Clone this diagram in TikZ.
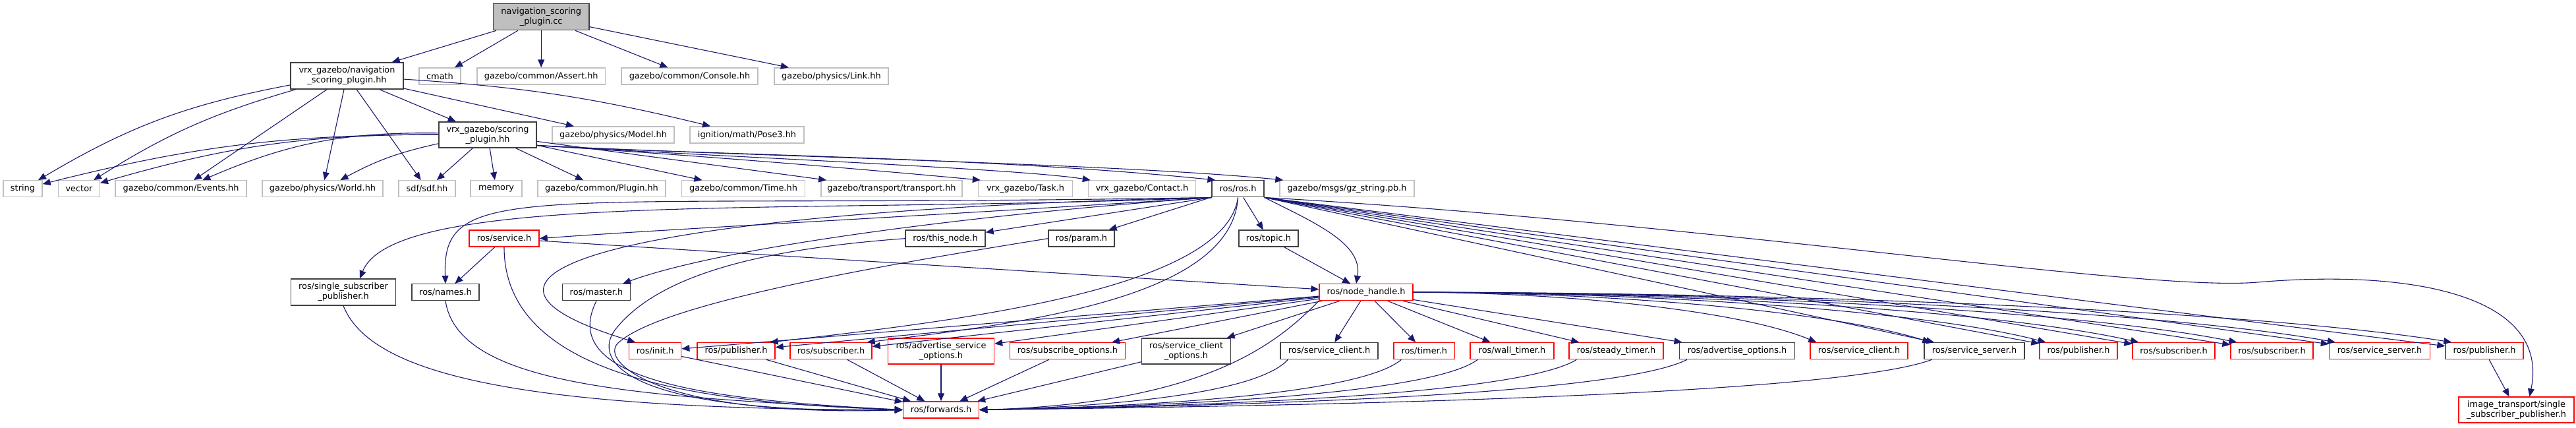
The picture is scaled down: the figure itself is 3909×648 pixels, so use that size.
\documentclass[tikz,border=0pt]{standalone}
\usepackage{fontspec}
\newfontfamily\dvs{DejaVu Sans}
\usetikzlibrary{arrows.meta}
\definecolor{edgec}{HTML}{191970}
\definecolor{gA}{HTML}{BFBFBF}
\definecolor{gD}{HTML}{404040}
\tikzset{
 box/.style={rectangle, inner sep=0pt, align=center, line width=1.4pt, font=\dvs\fontsize{12.9pt}{15pt}\selectfont, text=black},
 extn/.style={box, draw=gA},
 docn/.style={box, draw=gD},
 trnc/.style={box, draw=red},
 rootn/.style={box, draw=gD, fill=gA},
 dep/.style={draw=edgec, line width=1.1pt, -{Triangle[length=12pt,width=10pt]}},
}
\newcommand\mkn[6]{\node[#1, minimum width=#4pt, minimum height=#5pt] (#2) at (#3) {#6};}
\begin{document}
\begin{tikzpicture}[x=1pt,y=1pt]
\useasboundingbox (0,0) rectangle (3909,648);
% level 0-2
\mkn{rootn}{cc}{821.2,622.3}{145.5}{40}{navigation\_scoring\\\_plugin.cc}
\mkn{docn}{nsp}{526.5,533}{171}{40}{vrx\_gazebo/navigation\\\_scoring\_plugin.hh}
\mkn{extn}{cmath}{667.5,532.5}{63}{25}{cmath}
\mkn{extn}{assert}{821.2,532.5}{194.5}{25}{gazebo/common/Assert.hh}
\mkn{extn}{console}{1046.5,532.5}{207}{25}{gazebo/common/Console.hh}
\mkn{extn}{link}{1261.5,532.5}{173}{25}{gazebo/physics/Link.hh}
\mkn{docn}{sp}{740,443.5}{148}{39}{vrx\_gazebo/scoring\\\_plugin.hh}
\mkn{extn}{model}{930.5,443.5}{185}{25}{gazebo/physics/Model.hh}
\mkn{extn}{pose}{1133.5,443.5}{173}{25}{ignition/math/Pose3.hh}
% level 3
\mkn{extn}{string}{34.5,361.7}{59}{25}{string}
\mkn{extn}{vector}{120,361.7}{62.5}{25}{vector}
\mkn{extn}{events}{274.6,361.7}{199}{25}{gazebo/common/Events.hh}
\mkn{extn}{world}{489.5,361.7}{183}{25}{gazebo/physics/World.hh}
\mkn{extn}{sdf}{648,361.7}{86}{25}{sdf/sdf.hh}
\mkn{extn}{memory}{753,361.7}{78}{25}{memory}
\mkn{extn}{plugin}{913,361.7}{194}{25}{gazebo/common/Plugin.hh}
\mkn{extn}{time}{1128,361.7}{187}{25}{gazebo/common/Time.hh}
\mkn{extn}{transport}{1353,361.7}{214}{25}{gazebo/transport/transport.hh}
\mkn{extn}{task}{1556,361.7}{143}{25}{vrx\_gazebo/Task.h}
\mkn{extn}{contact}{1733,361.7}{163}{25}{vrx\_gazebo/Contact.h}
\mkn{docn}{ros}{1878.6,361.7}{79}{25}{ros/ros.h}
\mkn{extn}{gzstr}{2044,361.7}{204}{25}{gazebo/msgs/gz\_string.pb.h}
% level 4
\mkn{trnc}{service}{765,286.3}{106}{25}{ros/service.h}
\mkn{docn}{thisnode}{1434.5,286.3}{121}{25}{ros/this\_node.h}
\mkn{docn}{param}{1641,286.3}{100}{25}{ros/param.h}
\mkn{docn}{topic}{1925,286.3}{90}{25}{ros/topic.h}
% level 5
\mkn{docn}{ssp}{521,205}{159}{40}{ros/single\_subscriber\\\_publisher.h}
\mkn{docn}{names}{676,204.8}{102}{25}{ros/names.h}
\mkn{docn}{master}{905,204.8}{103}{25}{ros/master.h}
\mkn{trnc}{nh}{2073,204.8}{142}{25}{ros/node\_handle.h}
% level 6
\mkn{trnc}{init}{994.2,115.8}{79}{25}{ros/init.h}
\mkn{trnc}{pubA}{1117,115.8}{118}{25}{ros/publisher.h}
\mkn{trnc}{subA}{1261,115.8}{124}{25}{ros/subscriber.h}
\mkn{trnc}{aso}{1428,115.5}{161}{39}{ros/advertise\_service\\\_options.h}
\mkn{trnc}{subopt}{1620,115.8}{175}{25}{ros/subscribe\_options.h}
\mkn{docn}{sco}{1800,115.5}{135}{39}{ros/service\_client\\\_options.h}
\mkn{docn}{scA}{2017,115.8}{148}{25}{ros/service\_client.h}
\mkn{trnc}{timer}{2161.3,115.8}{92.5}{25}{ros/timer.h}
\mkn{trnc}{wall}{2294.5,115.8}{127}{25}{ros/wall\_timer.h}
\mkn{trnc}{steady}{2452.5,115.8}{143}{25}{ros/steady\_timer.h}
\mkn{docn}{advopt}{2636,115.8}{175}{25}{ros/advertise\_options.h}
\mkn{trnc}{scB}{2821,115.8}{148}{25}{ros/service\_client.h}
\mkn{docn}{ssA}{2996,115.8}{152}{25}{ros/service\_server.h}
\mkn{trnc}{pubB}{3154,115.8}{118}{25}{ros/publisher.h}
\mkn{trnc}{subB}{3298.5,115.8}{125}{25}{ros/subscriber.h}
\mkn{trnc}{subC}{3447.5,115.8}{125}{25}{ros/subscriber.h}
\mkn{trnc}{ssB}{3611,115.8}{153}{25}{ros/service\_server.h}
\mkn{trnc}{pubC}{3770,115.8}{118}{25}{ros/publisher.h}
% level 7
\mkn{trnc}{fwd}{1428,26.5}{115}{25}{ros/forwards.h}
\mkn{trnc}{its}{3818.5,26.5}{175}{39}{image\_transport/single\\\_subscriber\_publisher.h}

% ---- edges: root
\draw[dep] (cc) -- (nsp);
\draw[dep] (cc) -- (cmath);
\draw[dep] (cc) -- (assert);
\draw[dep] (cc) -- (console);
\draw[dep] (cc) -- (link);
% navigation_scoring_plugin.hh
\draw[dep] (nsp) to[bend right=10] (string);
\draw[dep] (nsp) to[bend right=8] (vector);
\draw[dep] (nsp) -- (events);
\draw[dep] (nsp) -- (world);
\draw[dep] (nsp) -- (sdf);
\draw[dep] (nsp) -- (sp);
\draw[dep] (nsp) -- (model);
\draw[dep] (nsp) to[bend left=5] (pose);
% scoring_plugin.hh
\draw[dep] (sp) to[bend right=7] (string);
\draw[dep] (sp) to[bend right=8] (vector);
\draw[dep] (sp) to[bend right=12] (events);
\draw[dep] (sp) to[bend right=8] (world);
\draw[dep] (sp) -- (sdf);
\draw[dep] (sp) -- (memory);
\draw[dep] (sp) -- (plugin);
\draw[dep] (sp) -- (time);
\draw[dep] (sp) -- (transport);
\draw[dep] ([yshift=-16pt]sp.east) .. controls (1100,410) and (1380,385) .. ([xshift=4pt]task.north west);
\draw[dep] ([yshift=-16pt]sp.east) .. controls (1100,410) and (1550,392) .. ([xshift=4pt]contact.north west);
\draw[dep] ([yshift=-16pt]sp.east) .. controls (1100,412) and (1500,410) .. ([xshift=6pt]ros.north west);
\draw[dep] ([yshift=-16pt]sp.east) .. controls (1100,412) and (1700,400) .. ([xshift=6pt]gzstr.north west);
% ros.h
\draw[dep] (ros.south west) .. controls (1200,322) and (600,360) .. ([xshift=25pt]ssp.north);
\draw[dep] (ros.south west) .. controls (800,330) and (670,380) .. (names.north);
\draw[dep] (ros.south west) .. controls (1400,320) and (1000,300) .. (service.east);
\draw[dep] (ros.south west) .. controls (1000,330) and (600,240) .. ([xshift=-30pt]init.north);
\draw[dep] (ros.south west) .. controls (1500,325) and (1100,275) .. ([xshift=-12pt]master.north east);
\draw[dep] (ros.south west) -- (thisnode);
\draw[dep] (ros) -- (param);
\draw[dep] (ros) -- (topic);
\draw[dep] (ros.south east) .. controls +(80,-40) and +(10,60) .. ([xshift=-15pt]nh.north);
\draw[dep] (ros.south) .. controls +(-20,-140) and +(282,32) .. ([xshift=-8pt]pubA.north east);
\draw[dep] (ros.south) .. controls +(-10,-150) and +(250,30) .. ([xshift=-8pt]subA.north east);
\draw[dep] (ros.south east) -- (ssA);
\draw[dep] (ros.south east) -- (pubB);
\draw[dep] (ros.south east) -- (subB);
\draw[dep] (ros.south east) -- (subC);
\draw[dep] (ros.south east) -- (ssB);
\draw[dep] (ros.south east) -- (pubC);
\draw[dep] (ros.south east) .. controls (2600,310) and (3250,205) .. (3426,220) .. controls (3660,240) and (3870,200) .. ([xshift=20pt]its.north);
% level 4/5 to forwards etc.
\draw[dep] (service) -- (names);
\draw[dep] (service) -- (nh);
\draw[dep] (service.south) .. controls +(0,-200) and +(-300,10) .. (fwd.west);
\draw[dep] (topic) -- (nh);
\draw[dep] (thisnode.west) .. controls (1150,270) and (1000,230) .. (935,150) .. controls (895,101) and (950,20) .. (fwd.west);
\draw[dep] (param.west) .. controls (1300,240) and (1000,185) .. (938,128) .. controls (908,100) and (1000,15) .. (fwd.west);
\draw[dep] (names.south) .. controls +(20,-130) and +(-400,20) .. (fwd.west);
\draw[dep] (master.south) .. controls +(-60,-120) and +(-300,15) .. (fwd.west);
\draw[dep] (ssp.south) .. controls +(40,-100) and +(-600,0) .. (fwd.west);
% node_handle.h
\draw[dep] (nh.south west) .. controls +(-60,-60) and +(350,10) .. (fwd.east);
\draw[dep] (nh) -- (init);
\draw[dep] (nh) -- (pubA);
\draw[dep] (nh) -- (subA);
\draw[dep] (nh) -- (aso);
\draw[dep] (nh) -- (subopt);
\draw[dep] (nh) -- (sco);
\draw[dep] (nh) -- (scA);
\draw[dep] (nh) -- (timer);
\draw[dep] (nh) -- (wall);
\draw[dep] (nh) -- (steady);
\draw[dep] (nh) -- (advopt);
\draw[dep] (nh.east) .. controls +(215,0) and +(-120,50) .. ([xshift=10pt]scB.north west);
\draw[dep] (nh.east) .. controls +(275,0) and +(-160,50) .. ([xshift=10pt]ssA.north west);
\draw[dep] (nh.east) .. controls +(335,0) and +(-190,50) .. ([xshift=10pt]pubB.north west);
\draw[dep] (nh.east) .. controls +(385,0) and +(-220,50) .. ([xshift=10pt]subB.north west);
\draw[dep] (nh.east) .. controls +(440,0) and +(-250,50) .. ([xshift=10pt]subC.north west);
\draw[dep] (nh.east) .. controls +(490,0) and +(-280,50) .. ([xshift=10pt]ssB.north west);
\draw[dep] (nh.east) .. controls +(550,0) and +(-315,50) .. ([xshift=10pt]pubC.north west);
% level 6 to forwards
\draw[dep] (init) -- (fwd);
\draw[dep] (pubA) -- (fwd);
\draw[dep] (subA) -- (fwd);
\draw[dep] (aso) -- (fwd);
\draw[dep] (subopt) -- (fwd);
\draw[dep] (sco) -- (fwd);
\draw[dep] ([xshift=12pt]scA.south west) .. controls +(-50,-55) and +(170,4) .. (fwd.east);
\draw[dep] ([xshift=12pt]timer.south west) .. controls +(-65,-55) and +(225,4) .. (fwd.east);
\draw[dep] ([xshift=12pt]wall.south west) .. controls +(-75,-55) and +(265,5) .. (fwd.east);
\draw[dep] ([xshift=12pt]steady.south west) .. controls +(-90,-55) and +(320,5) .. (fwd.east);
\draw[dep] ([xshift=12pt]advopt.south west) .. controls +(-110,-55) and +(380,6) .. (fwd.east);
\draw[dep] ([xshift=12pt]ssA.south west) .. controls +(-150,-55) and +(500,6) .. (fwd.east);
\draw[dep] (pubC) -- (its);
\end{tikzpicture}
\end{document}
